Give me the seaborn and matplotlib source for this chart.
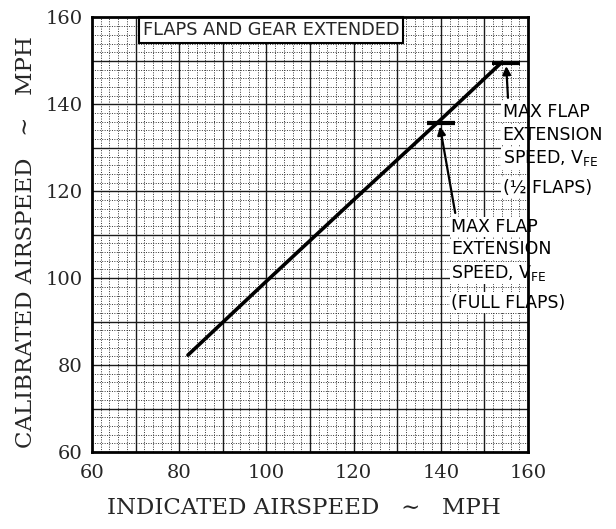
import numpy as np
import pandas as pd
import seaborn as sns
import matplotlib.pyplot as plt
from matplotlib.ticker import MultipleLocator

# values
ias = [82, 100, 120, 140, 154]
cas = [82.3, 99.3, 118.0, 136.5, 149.7]
tick_values = [60, 80, 100, 120, 140, 160]
half_flap_vfe = (155, 149.6)   # IAS, CAS of the 1/2 flaps marker
full_flap_vfe = (140, 135.7)   # IAS, CAS of the full flaps marker

sns.set_style("white")
plt.rcParams['font.family'] = ['DejaVu Sans']
plt.rcParams['mathtext.fontset'] = 'dejavusans'

df = pd.DataFrame({'ias': ias, 'cas': cas})

fig = plt.figure(figsize=(6.16, 5.29), dpi=100)
ax = fig.add_axes([0.1494, 0.1456, 0.7078, 0.8214])

ax.set_xlim(60, 160)
ax.set_ylim(60, 160)

# fine dotted grid every 2 mph
ax.xaxis.set_minor_locator(MultipleLocator(2))
ax.yaxis.set_minor_locator(MultipleLocator(2))
ax.grid(which='minor', color='0.2', linestyle=(0, (1, 1.5)), linewidth=0.7, zorder=0)
# solid grid every 10 mph
for v in np.arange(70, 160, 10):
    ax.axhline(v, color='0.1', lw=1.0, zorder=1)
    ax.axvline(v, color='0.1', lw=1.0, zorder=1)

sns.lineplot(data=df, x='ias', y='cas', color='black', lw=2.6, ax=ax, zorder=5)

# V_FE markers
for (x, y) in [half_flap_vfe, full_flap_vfe]:
    ax.hlines(y, x - 3.2, x + 3.2, color='black', lw=3, zorder=6)

arrow = dict(arrowstyle='-|>', color='black', lw=1.6, mutation_scale=12, shrinkA=0, shrinkB=0)
ax.annotate('', xy=(half_flap_vfe[0], half_flap_vfe[1] - 0.8), xytext=(155.4, 141.5),
            arrowprops=arrow, zorder=7)
ax.annotate('', xy=(full_flap_vfe[0] - 0.2, full_flap_vfe[1] - 0.8), xytext=(143.3, 115.0),
            arrowprops=arrow, zorder=7)

txt = dict(fontsize=12.5, color='black', va='center', ha='left', clip_on=False, zorder=8,
           bbox=dict(facecolor='white', edgecolor='none', pad=1.0))
half_lines = ['MAX FLAP', 'EXTENSION', r'SPEED, V$_{\mathrm{FE}}$', '(½ FLAPS)']
for label, y in zip(half_lines, [138.3, 133.0, 127.6, 120.8]):
    ax.text(154.2, y, label, **txt)
full_lines = ['MAX FLAP', 'EXTENSION', r'SPEED, V$_{\mathrm{FE}}$', '(FULL FLAPS)']
for label, y in zip(full_lines, [111.8, 106.6, 101.2, 94.4]):
    ax.text(142.4, y, label, **txt)

ax.text(71.6, 157.2, 'FLAPS AND GEAR EXTENDED', fontsize=12.8, va='center', ha='left', zorder=8,
        bbox=dict(facecolor='white', edgecolor='black', lw=1.5, pad=3.0))

ax.set_xticks(tick_values)
ax.set_yticks(tick_values)
serif = ['DejaVu Serif']
ax.set_xticklabels([str(t) for t in tick_values], family=serif, fontsize=14)
ax.set_yticklabels([str(t) for t in tick_values], family=serif, fontsize=14)
ax.tick_params(axis='x', which='major', direction='in', length=12, width=2.5, pad=9, color='black')
ax.tick_params(axis='y', which='major', direction='in', length=8, width=2.5, pad=7, color='black')
ax.tick_params(which='minor', length=0)

for s in ax.spines.values():
    s.set_color('black')
    s.set_linewidth(2)
    s.set_zorder(9)

ax.set_xlabel('INDICATED AIRSPEED   ∼   MPH', family=serif, fontsize=16.5)
ax.set_ylabel('CALIBRATED AIRSPEED   ∼   MPH', family=serif, fontsize=16.5)
ax.xaxis.label.set(va='center', ha='center')
ax.yaxis.label.set(va='center', ha='center')
ax.xaxis.set_label_coords(0.486, -0.129)
ax.yaxis.set_label_coords(-0.151, 0.482)

fig.savefig('out.png', dpi=100)
